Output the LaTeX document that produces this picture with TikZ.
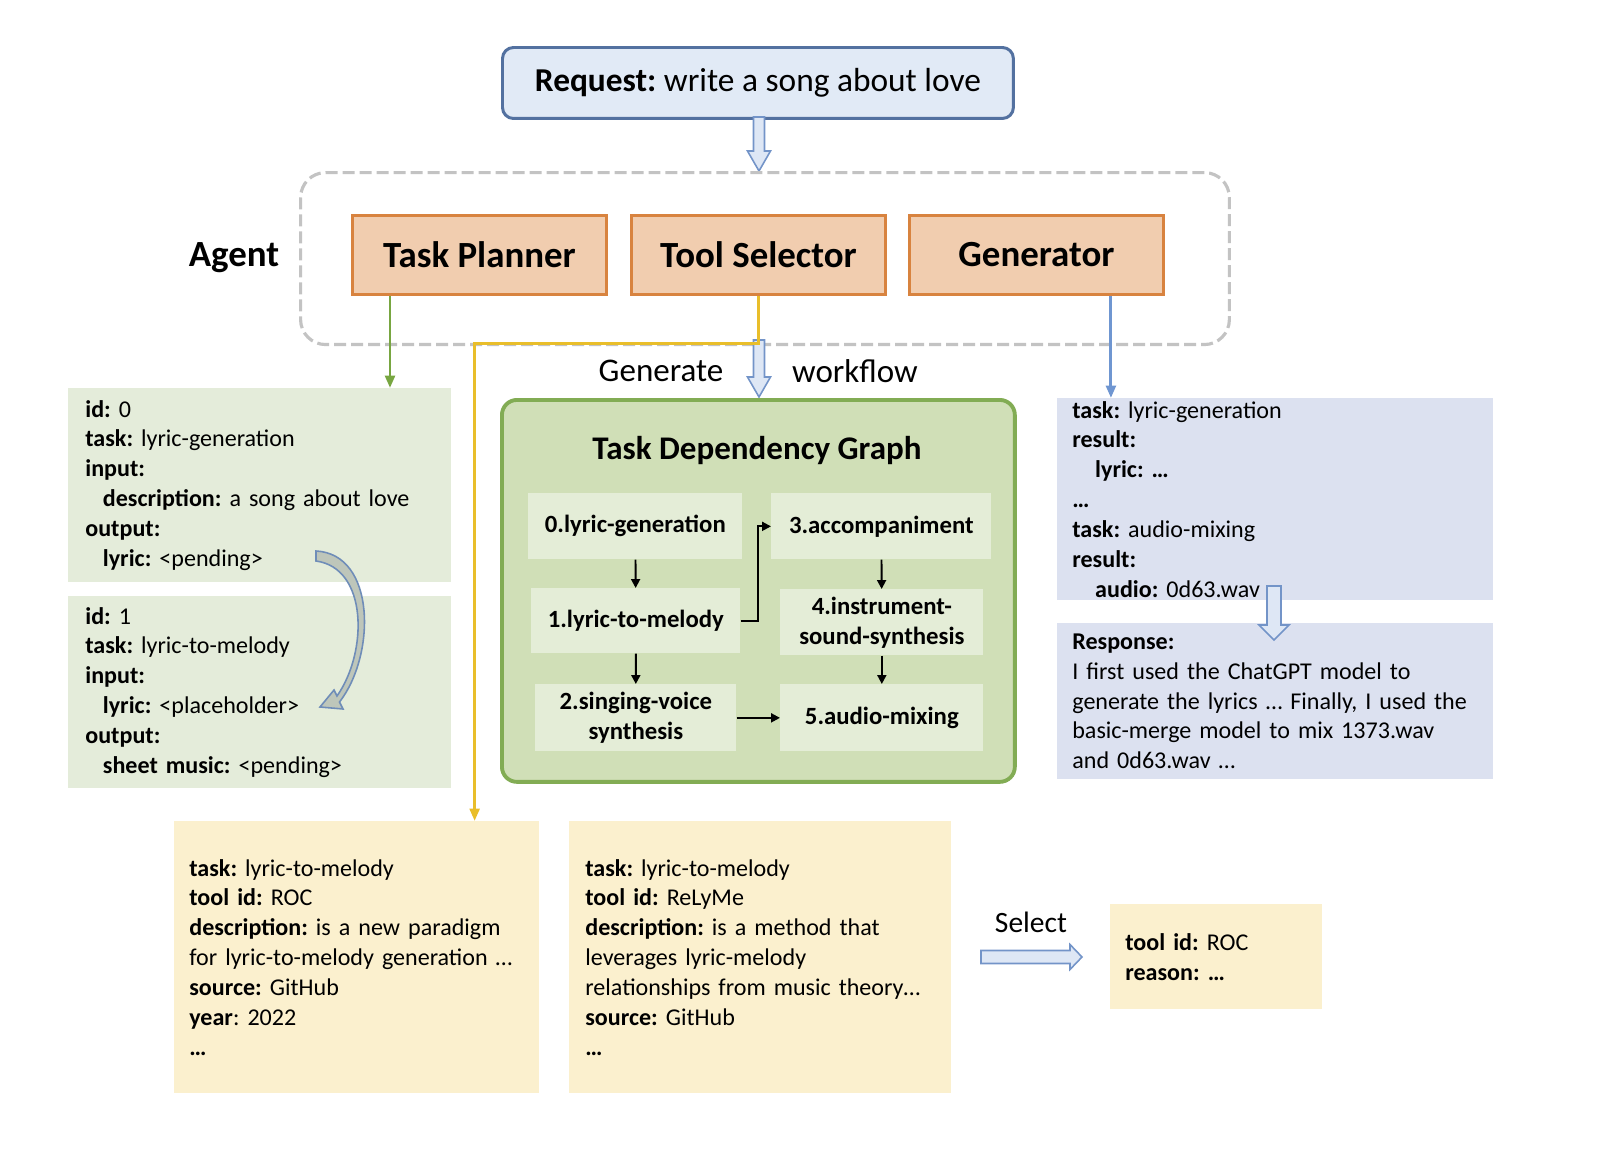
\documentclass[tikz,border=0pt]{standalone}
\usepackage{fontspec}
\setmainfont{Carlito}
\usetikzlibrary{arrows.meta,calc}
\definecolor{reqfill}{HTML}{E1EAF6}
\definecolor{reqline}{HTML}{5371A0}
\definecolor{frame}{HTML}{C3C3C3}
\definecolor{orfill}{HTML}{F1CDAF}
\definecolor{orline}{HTML}{D8833F}
\definecolor{tdgfill}{HTML}{D0DFB7}
\definecolor{tdgline}{HTML}{82AC54}
\definecolor{tfill}{HTML}{E4EDD7}
\definecolor{lgreen}{HTML}{E4ECDA}
\definecolor{lblue}{HTML}{DCE1F0}
\definecolor{lyellow}{HTML}{FBF0CE}
\definecolor{garrow}{HTML}{78A641}
\definecolor{yarrow}{HTML}{E9BE2A}
\definecolor{barrow}{HTML}{6F96D1}
\definecolor{hline}{HTML}{7394C8}
\definecolor{hfill}{HTML}{DEE7F5}
\definecolor{cfill}{HTML}{BEC6BA}
\definecolor{cline}{HTML}{6F8DB8}

\begin{document}
\frenchspacing
\hyphenpenalty=10000
\begin{tikzpicture}[x=0.02cm,y=-0.02cm,
  every node/.style={font=\fontsize{13.7}{17}\selectfont},
  txt/.style={anchor=north west,inner ysep=0pt,align=left},
  top/.style={draw=orline,fill=orfill,line width=1.7pt,anchor=north west,minimum width=5.08cm,minimum height=1.58cm,font=\fontsize{21}{25}\selectfont\bfseries},
  t/.style={fill=tfill,anchor=north west,align=center,inner sep=0pt,font=\fontsize{14.1}{17}\selectfont\bfseries},
  arr/.style={-{Triangle[length=5pt,width=5pt]},line width=1.1pt},
  garr/.style={-{Triangle[length=7pt,width=5.5pt]},line width=1.7pt,garrow},
  yarr/.style={-{Triangle[length=7pt,width=5.5pt]},line width=1.7pt,yarrow},
  barr/.style={-{Triangle[length=7pt,width=5.5pt]},line width=1.7pt,barrow},
  harr/.style={draw=hline,fill=hfill,line width=0.9pt},
  pics/hdown/.style n args={4}{code={\draw[harr] (-#2,0) -- (-#2,{#1-#4}) -- (-#3,{#1-#4}) -- (0,#1) -- (#3,{#1-#4}) -- (#2,{#1-#4}) -- (#2,0) -- cycle;}}]
\useasboundingbox (0,0) rectangle (1597,1150);

\node[draw=reqline,fill=reqfill,line width=1.7pt,rounded corners=0.22cm,anchor=north west,minimum width=10.22cm,minimum height=1.42cm,font=\fontsize{19}{23}\selectfont] (req) at (501,46) {\textbf{Request:} write a song about love};
\pic at (759,117) {hdown={54}{5.5}{11.5}{20}};

% agent
\node[draw=frame,dash pattern=on 0.24cm off 0.1cm,line width=1.8pt,rounded corners=0.5cm,anchor=north west,minimum width=18.58cm,minimum height=3.44cm] (agent) at (299,171) {};
\node[font=\fontsize{21}{25}\selectfont\bfseries] (agentlbl) at (234,258) {Agent};
\node[top] (tp) at (351,214) {Task Planner};
\node[top] (ts) at (630,214) {Tool Selector};
\node[top] (gen) at (908,214) {Generator};

% task list
\node[txt,fill=lgreen,text width=6.98cm,inner xsep=0.34cm,minimum height=3.88cm] (lb1) at (68,388) {\textbf{id:} 0\\
\textbf{task:} lyric-generation\\
\textbf{input:}\\
\hspace*{10pt}\textbf{description:} a song about love\\
\textbf{output:}\\
\hspace*{10pt}\textbf{lyric:} <pending>};
\node[txt,fill=lgreen,text width=6.98cm,inner xsep=0.34cm,minimum height=3.84cm] (lb2) at (68,596) {\textbf{id:} 1\\
\textbf{task:} lyric-to-melody\\
\textbf{input:}\\
\hspace*{10pt}\textbf{lyric:} <placeholder>\\
\textbf{output:}\\
\hspace*{10pt}\textbf{sheet music:} <pending>};
\draw[draw=cline,fill=cfill,line width=0.9pt] (316,551) .. controls (376,554) and (376,655) .. (339.5,702) -- (343,709) -- (320,707) -- (334,690) -- (337,696) .. controls (368,652) and (368,568) .. (316,561) -- cycle;

% graph
\pic at (759,340) {hdown={57}{5.5}{11.5}{20}};
\node[font=\fontsize{18.8}{22}\selectfont] (genlbl) at (661,371) {Generate};
\node[font=\fontsize{18.8}{22}\selectfont] (wflbl) at (855,371) {workflow};
\node[draw=tdgline,fill=tdgfill,line width=2.2pt,rounded corners=0.3cm,anchor=north west,minimum width=10.26cm,minimum height=7.64cm] (tdg) at (500,398) {};
\node[font=\fontsize{18.8}{22}\selectfont\bfseries] (title) at (757,451) {Task Dependency Graph};
\node[t,minimum width=4.28cm,minimum height=1.32cm] (n0) at (528,493) {0.lyric-generation};
\node[t,minimum width=4.18cm,minimum height=1.30cm] (n1) at (531,588) {1.lyric-to-melody};
\node[t,minimum width=4.02cm,minimum height=1.34cm] (n2) at (535,684) {2.singing-voice\\synthesis};
\node[t,minimum width=4.40cm,minimum height=1.32cm] (n3) at (771,493) {3.accompaniment};
\node[t,minimum width=4.06cm,minimum height=1.32cm] (n4) at (780,589) {4.instrument-\\sound-synthesis};
\node[t,minimum width=4.06cm,minimum height=1.34cm] (n5) at (780,684) {5.audio-mixing};
\draw[arr] (n0) -- (n1);
\draw[arr] (n1) -- (n2);
\draw[arr] (n1.east) -- ++(17,0) |- (n3.west);
\draw[arr] (n3) -- (n4);
\draw[arr] (n4) -- (n5);
\draw[arr] (n2) -- (n5);

% results
\node[txt,fill=lblue,text width=8.12cm,inner xsep=0.3cm,minimum height=4.04cm] (rb1) at (1057,398) {\textbf{task:} lyric-generation\\
\textbf{result:}\\
\hspace*{13pt}\textbf{lyric: …}\\
\textbf{…}\\
\textbf{task:} audio-mixing\\
\textbf{result:}\\
\hspace*{13pt}\textbf{audio:} 0d63.wav};
\node[txt,fill=lblue,text width=8.12cm,inner xsep=0.3cm,minimum height=3.12cm] (rb2) at (1057,623) {\textbf{Response:}\\
I first used the ChatGPT model to\\
generate the lyrics … Finally, I used the\\
basic-merge model to mix 1373.wav\\
and 0d63.wav …};
\pic at (1274,586) {hdown={54}{7}{15}{15}};

% tools
\node[txt,fill=lyellow,text width=6.7cm,inner xsep=0.3cm,minimum height=5.44cm] (yb1) at (174,821) {\textbf{task:} lyric-to-melody\\
\textbf{tool id:} ROC\\
\textbf{description:} is a new paradigm\\
for lyric-to-melody generation …\\
\textbf{source:} GitHub\\
\textbf{year}: 2022\\
\textbf{…}};
\node[txt,fill=lyellow,text width=7.0cm,inner xsep=0.32cm,minimum height=5.44cm] (yb2) at (569,821) {\textbf{task:} lyric-to-melody\\
\textbf{tool id:} ReLyMe\\
\textbf{description:} is a method that\\
leverages lyric-melody\\
relationships from music theory…\\
\textbf{source:} GitHub\\
\textbf{…}};
\node[txt,fill=lyellow,text width=3.64cm,inner xsep=0.3cm,minimum height=2.1cm] (yb3) at (1110,904) {\textbf{tool id:} ROC\\
\textbf{reason: …}};
\pic[rotate=90] at (981,957) {hdown={101}{6.5}{12.5}{12}};
\node[font=\fontsize{16.8}{20}\selectfont] (sellbl) at (1031,922) {Select};

% connectors
\coordinate (tpo) at ($(tp.south west)+(39,0)$);
\draw[garr] (tpo) -- (tpo |- lb1.north);
\coordinate (yo) at ($(yb1.north east)+(-65,0)$);
\draw[yarr] (ts.south) -- ++(0,48) -| (yo);
\coordinate (go) at ($(gen.south east)+(-54,0)$);
\draw[barr] (go) -- (go |- rb1.north);
\end{tikzpicture}
\end{document}
